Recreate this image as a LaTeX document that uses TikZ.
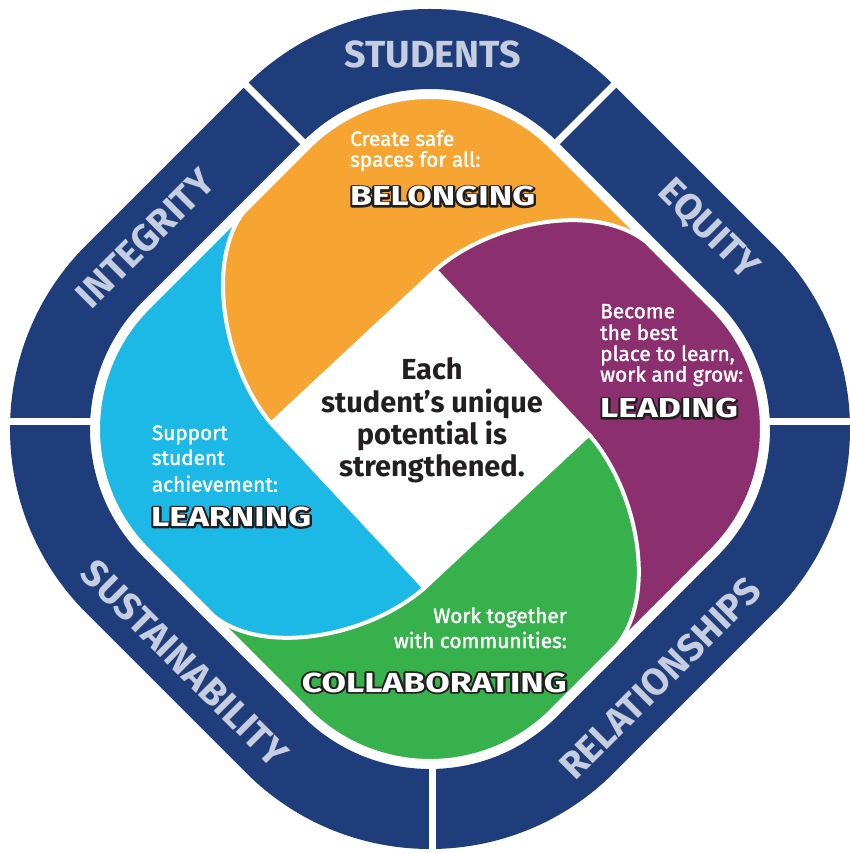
\documentclass[tikz,border=0pt]{standalone}
\usepackage{fontspec}
\setmainfont{Fira Sans}
\newfontfamily\medf[FakeBold=1.5]{Fira Sans}
\usepackage{graphicx}
\definecolor{navyC}{HTML}{1F3D7A}
\definecolor{bandtxt}{HTML}{C5CDE0}
\definecolor{orangeC}{HTML}{F6A533}
\definecolor{purpleC}{HTML}{8B2F6E}
\definecolor{greenC}{HTML}{36B14B}
\definecolor{blueC}{HTML}{1CB8E6}
\definecolor{inkC}{HTML}{231F20}
\newcommand\kwscale[1]{\scalebox{1.29}[1]{#1}}
\newcommand\strokeon{\special{pdf:literal direct 2 Tr 3.4 w 1 j 0.137 0.122 0.125 RG 0.137 0.122 0.125 rg}}
\newcommand\strokeoff{\special{pdf:literal direct 0 Tr}}
\newcommand\outlined[1]{\strokeon\kwscale{#1}\strokeoff}
\tikzset{
  bandlbl/.style={text=bandtxt, font=\fontsize{37.7}{40}\selectfont\bfseries, inner sep=0pt, text depth=0pt, anchor=center},
  petaltxt/.style={text=white, font=\fontsize{20.8}{22}\selectfont\medf, inner sep=0pt, anchor=base west},
  petaltxtr/.style={petaltxt, anchor=base east},
  keyword/.style={text=white, font=\fontsize{27.5}{30}\selectfont\bfseries, inner sep=0pt, anchor=base west},
  keywordr/.style={keyword, anchor=base east},
  keywordbg/.style={keyword, text=inkC},
  keywordbgr/.style={keywordbg, anchor=base east},
  centretxt/.style={text=inkC, font=\fontsize{29}{32}\selectfont\bfseries, inner sep=0pt, anchor=base},
  sepline/.style={white, line width=7pt},
  petalline/.style={draw=white, line width=4pt, line join=round}
}
\begin{document}
\begin{tikzpicture}[x=1pt,y=1pt]
\useasboundingbox (-430,-424) rectangle (420,429);
% outer band
\fill[navyC, even odd rule]
  (183.85,343.85) arc[start angle=45,end angle=135,radius=260]
  -- (-343.85,183.85) arc[start angle=135,end angle=225,radius=260]
  -- (-183.85,-343.85) arc[start angle=225,end angle=315,radius=260]
  -- (343.85,-183.85) arc[start angle=-45,end angle=45,radius=260] -- cycle
  (127.28,287.28) arc[start angle=45,end angle=135,radius=180]
  -- (-287.28,127.28) arc[start angle=135,end angle=225,radius=180]
  -- (-127.28,-287.28) arc[start angle=225,end angle=315,radius=180]
  -- (287.28,-127.28) arc[start angle=-45,end angle=45,radius=180] -- cycle;
% separators
\coordinate (s1a) at (-192,352); \coordinate (s1b) at (-120,280);
\coordinate (s2a) at (192,352);  \coordinate (s2b) at (120,280);
\coordinate (s3a) at (-432,7);   \coordinate (s3b) at (-330,7);
\coordinate (s4a) at (432,7);    \coordinate (s4b) at (330,7);
\coordinate (s5a) at (2,-330);   \coordinate (s5b) at (2,-430);
\draw[sepline] (s1a) -- (s1b);
\draw[sepline] (s2a) -- (s2b);
\draw[sepline] (s3a) -- (s3b);
\draw[sepline] (s4a) -- (s4b);
\draw[sepline] (s5a) -- (s5b);
% petals
\foreach \ang/\col in {0/orangeC,-90/purpleC,-180/greenC,-270/blueC}{
  \begin{scope}[rotate=\ang]
    \filldraw[fill=\col, petalline]
      (-158.9,5.55) -- (5.55,158.9)
      .. controls (60,205) and (165,225) .. (216.24,187)
      -- (121.62,281.62) arc[start angle=45,end angle=135,radius=172]
      -- (-187,216.24) .. controls (-228,165) and (-207,60) .. cycle;
  \end{scope}
}
% band labels
\node[bandlbl] (students) at (2.5,375) {STUDENTS};
\node[bandlbl, rotate=45] (integrity) at (-285,191) {INTEGRITY};
\node[bandlbl, rotate=-45] (equity) at (280,201) {EQUITY};
\node[bandlbl, rotate=45] (relations) at (230,-249) {RELATIONSHIPS};
\node[bandlbl, rotate=-45] (sustain) at (-245,-234) {SUSTAINABILITY};
% outlined keywords (black stroked copy below, white copy on top)
\node[keywordbg] (o3u) at (-80,223) {\outlined{BELONGING}};
\node[keyword] (o3) at (-80,223) {\kwscale{BELONGING}};
\node[keywordbg] (p5u) at (170,11) {\outlined{LEADING}};
\node[keyword] (p5) at (170,11) {\kwscale{LEADING}};
\node[keywordbg] (b4u) at (-279,-97.7) {\outlined{LEARNING}};
\node[keyword] (b4) at (-279,-97.7) {\kwscale{LEARNING}};
\node[keywordbgr] (g3u) at (137,-263) {\outlined{COLLABORATING}};
\node[keywordr] (g3) at (137,-263) {\kwscale{COLLABORATING}};
% orange
\node[petaltxt] (o1) at (-80,283) {Create safe};
\node[petaltxt] (o2) at (-80,262.3) {spaces for all:};
% purple
\node[petaltxt] (p1) at (170,110.7) {Become};
\node[petaltxt] (p2) at (170,89) {the best};
\node[petaltxt] (p3) at (170,68) {place to learn,};
\node[petaltxt] (p4) at (170,47.3) {work and grow:};
% blue
\node[petaltxt] (b1) at (-278.3,-11) {Support};
\node[petaltxt] (b2) at (-278.3,-36) {student};
\node[petaltxt] (b3) at (-278.3,-62.7) {achievement:};
% green
\node[petaltxtr] (g1) at (137,-194) {Work together};
\node[petaltxtr] (g2) at (137,-219) {with communities:};
% centre
\node[centretxt] (c1) at (2,49) {Each};
\node[centretxt] (c2) at (2,16.5) {student’s unique};
\node[centretxt] (c3) at (2,-15.5) {potential is};
\node[centretxt] (c4) at (2,-47.5) {strengthened.};
\end{tikzpicture}
\end{document}
